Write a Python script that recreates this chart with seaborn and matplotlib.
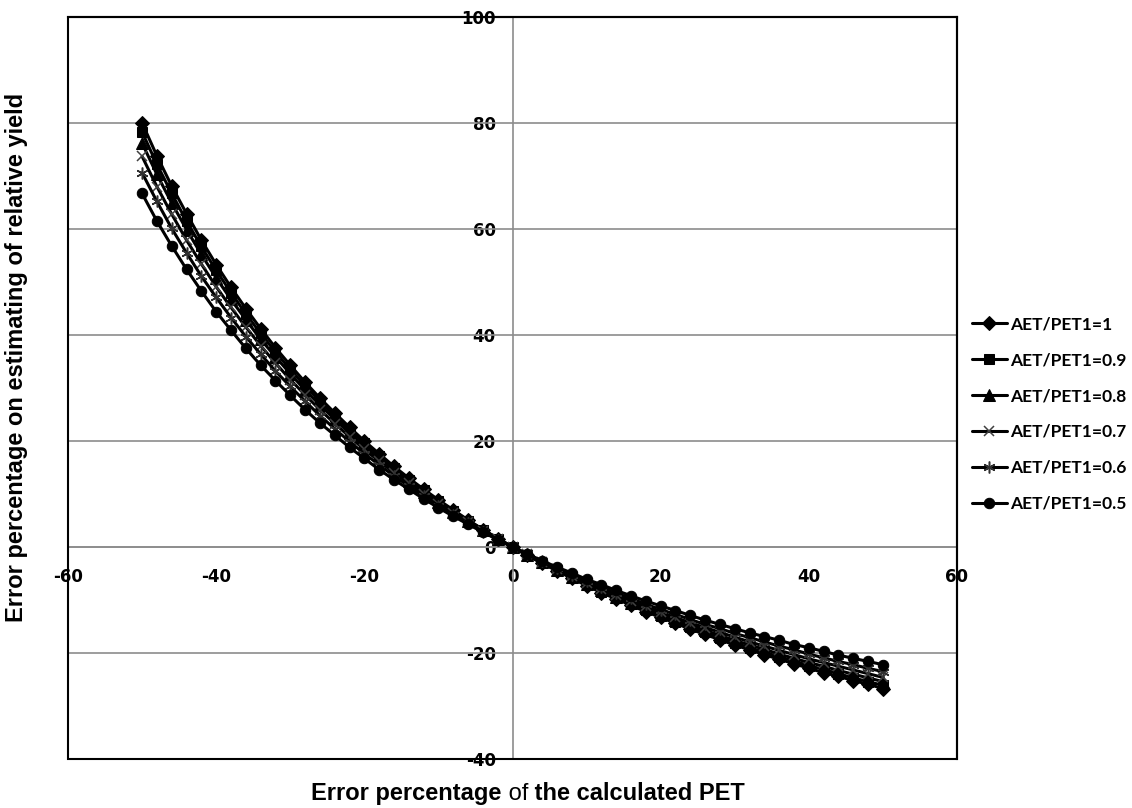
import matplotlib
matplotlib.use("Agg")
import matplotlib.pyplot as plt
from matplotlib.patches import Rectangle
import seaborn as sns

# x: error percentage of calculated PET
pet_error = list(range(-50, 52, 2))

aet_1 = [80.0, 73.8, 68.1, 62.9, 57.9, 53.3, 49.0, 45.0, 41.2, 37.6, 34.3, 31.1, 28.1,
         25.3, 22.6, 20.0, 17.6, 15.2, 13.0, 10.9, 8.9, 7.0, 5.1, 3.3, 1.6, 0.0,
         -1.6, -3.1, -4.5, -5.9, -7.3, -8.6, -9.8, -11.0, -12.2, -13.3, -14.4, -15.5,
         -16.5, -17.5, -18.5, -19.4, -20.3, -21.2, -22.0, -22.9, -23.7, -24.4, -25.2,
         -25.9, -26.7]
aet_09 = [78.3, 72.2, 66.7, 61.5, 56.7, 52.2, 48.0, 44.0, 40.3, 36.8, 33.5, 30.4, 27.5,
          24.7, 22.1, 19.6, 17.2, 14.9, 12.7, 10.7, 8.7, 6.8, 5.0, 3.3, 1.6, 0.0,
          -1.5, -3.0, -4.4, -5.8, -7.1, -8.4, -9.6, -10.8, -11.9, -13.0, -14.1, -15.1,
          -16.1, -17.1, -18.1, -19.0, -19.9, -20.7, -21.5, -22.4, -23.1, -23.9, -24.7,
          -25.4, -26.1]
aet_08 = [76.2, 70.3, 64.9, 59.9, 55.2, 50.8, 46.7, 42.9, 39.2, 35.9, 32.7, 29.6, 26.8,
          24.1, 21.5, 19.0, 16.7, 14.5, 12.4, 10.4, 8.5, 6.6, 4.9, 3.2, 1.6, 0.0,
          -1.5, -2.9, -4.3, -5.6, -6.9, -8.2, -9.4, -10.5, -11.6, -12.7, -13.7, -14.7,
          -15.7, -16.7, -17.6, -18.5, -19.3, -20.2, -21.0, -21.8, -22.5, -23.3, -24.0,
          -24.7, -25.4]
aet_07 = [73.7, 68.0, 62.8, 57.9, 53.4, 49.1, 45.2, 41.5, 38.0, 34.7, 31.6, 28.7, 25.9,
          23.3, 20.8, 18.4, 16.2, 14.0, 12.0, 10.0, 8.2, 6.4, 4.7, 3.1, 1.5, 0.0,
          -1.4, -2.8, -4.2, -5.5, -6.7, -7.9, -9.1, -10.2, -11.2, -12.3, -13.3, -14.3,
          -15.2, -16.1, -17.0, -17.9, -18.7, -19.5, -20.3, -21.1, -21.8, -22.5, -23.2,
          -23.9, -24.6]
aet_06 = [70.6, 65.2, 60.1, 55.5, 51.1, 47.1, 43.3, 39.7, 36.4, 33.2, 30.3, 27.5, 24.8,
          22.3, 19.9, 17.6, 15.5, 13.4, 11.5, 9.6, 7.8, 6.1, 4.5, 2.9, 1.4, 0.0,
          -1.4, -2.7, -4.0, -5.2, -6.4, -7.6, -8.7, -9.7, -10.8, -11.8, -12.7, -13.7,
          -14.6, -15.4, -16.3, -17.1, -17.9, -18.7, -19.4, -20.2, -20.9, -21.6, -22.2,
          -22.9, -23.5]
aet_05 = [66.7, 61.5, 56.8, 52.4, 48.3, 44.4, 40.9, 37.5, 34.3, 31.4, 28.6, 25.9, 23.4,
          21.1, 18.8, 16.7, 14.6, 12.7, 10.9, 9.1, 7.4, 5.8, 4.3, 2.8, 1.4, 0.0,
          -1.3, -2.6, -3.8, -4.9, -6.1, -7.1, -8.2, -9.2, -10.2, -11.1, -12.0, -12.9,
          -13.8, -14.6, -15.4, -16.2, -16.9, -17.6, -18.4, -19.0, -19.7, -20.4, -21.0,
          -21.6, -22.2]

series_labels = ["AET/PET1=1", "AET/PET1=0.9", "AET/PET1=0.8",
                 "AET/PET1=0.7", "AET/PET1=0.6", "AET/PET1=0.5"]
x_ticks = [-60, -40, -20, 0, 20, 40, 60]
y_ticks = [-40, -20, 0, 20, 40, 60, 80, 100]

sns.set_style("white")
plt.rcParams["font.family"] = ["Lato", "DejaVu Sans"]
plt.rcParams["font.weight"] = "bold"
plt.rcParams["text.color"] = "black"

fig = plt.figure(figsize=(11.32, 8.08), dpi=100)
ax = fig.add_axes([68 / 1132, 1 - 759 / 808, (957 - 68) / 1132, (759 - 17) / 808])

styles = [
    dict(marker="D", ms=7, mfc="black", mec="black"),
    dict(marker="s", ms=7.5, mfc="black", mec="black"),
    dict(marker="^", ms=8, mfc="black", mec="black"),
    dict(marker="x", ms=7.5, mfc="white", mec="#404040", mew=1.1),
    dict(marker=(6, 2, 0), ms=8.5, mfc="white", mec="#303030", mew=1.1),
    dict(marker="o", ms=7.5, mfc="black", mec="black"),
]
all_series = [aet_1, aet_09, aet_08, aet_07, aet_06, aet_05]
for vals, lab, st in zip(all_series, series_labels, styles):
    sns.lineplot(x=pet_error, y=vals, ax=ax, color="black", lw=2.2,
                 label=lab, zorder=3, **st)

ax.set_xlim(-60, 60)
ax.set_ylim(-40, 100)
ax.set_xlabel("")
ax.set_ylabel("")

# horizontal gridlines
for t in y_ticks[1:-1]:
    ax.axhline(t, color="#8c8c8c", lw=1.2, zorder=1)

# axes crossing at zero
ax.spines["left"].set_position(("data", 0))
ax.spines["bottom"].set_position(("data", 0))
ax.spines["left"].set_color("#8c8c8c")
ax.spines["bottom"].set_color("#8c8c8c")
ax.spines["left"].set_linewidth(1.2)
ax.spines["bottom"].set_linewidth(1.2)
for s in ["top", "right"]:
    ax.spines[s].set_color("black")
    ax.spines[s].set_linewidth(1.5)
ax.add_patch(Rectangle((0, 0), 1, 1, transform=ax.transAxes, fill=False,
                       edgecolor="black", lw=1.5, zorder=5, clip_on=False))

ax.set_xticks(x_ticks)
ax.set_yticks(y_ticks)
ax.set_xticklabels([str(t) for t in x_ticks])
ax.set_yticklabels([str(t) for t in y_ticks])
ax.tick_params(axis="both", length=0, labelsize=12, colors="black",
               labelfontfamily="DejaVu Sans")
ax.tick_params(axis="y", pad=12)
ax.tick_params(axis="x", pad=15)

leg = ax.legend(loc="center left", bbox_to_anchor=(972 / 1132, 1 - 414 / 808),
                bbox_transform=fig.transFigure, frameon=False,
                prop={"size": 12.5, "weight": "bold", "family": ["Lato", "DejaVu Sans"]},
                handlelength=2.0, handletextpad=0.2, labelspacing=1.15,
                borderpad=0, borderaxespad=0)

title_font = ["Liberation Sans", "DejaVu Sans"]

# y axis title
fig.text(17 / 1132, 1 - 357 / 808, "Error percentage on estimating of relative yield",
         rotation=90, ha="center", va="center", fontsize=17, fontweight="bold",
         family=title_font)

# x axis title with mixed weights
parts = [("Error percentage", "bold"), (" of", "normal"), (" the calculated PET", "bold")]
first = fig.text(0.3, 1 - 800 / 808, parts[0][0], ha="left", va="baseline", fontsize=17,
                 fontweight=parts[0][1], family=title_font)
pieces = [first]
for txt, wt in parts[1:]:
    nxt = ax.annotate(txt, xy=(1, 0), xycoords=pieces[-1], va="bottom", ha="left",
                      fontsize=17, fontweight=wt, family=title_font,
                      annotation_clip=False)
    pieces.append(nxt)

fig.canvas.draw()
r = fig.canvas.get_renderer()
x0 = pieces[0].get_window_extent(r).x0
x1 = pieces[-1].get_window_extent(r).x1
width = x1 - x0
first.set_x((528 - width / 2) / 1132)

fig.savefig("out.png", dpi=100)
